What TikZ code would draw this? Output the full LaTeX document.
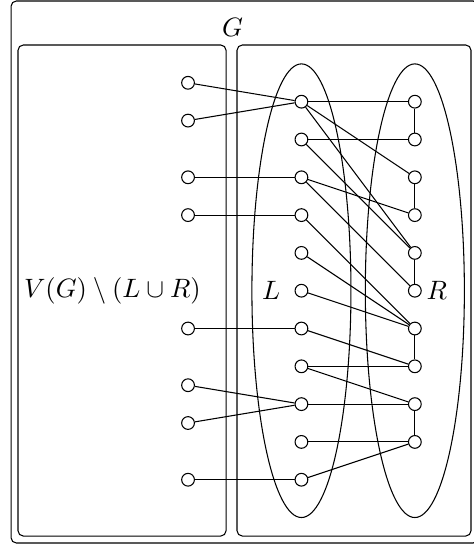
\documentclass[tikz,border=0pt]{standalone}
\usepackage{tikz}

\begin{document}
\begin{tikzpicture}[
  vtx/.style={draw,circle,fill=white,inner sep=0pt,minimum size=4.8pt},
  part/.style={draw,rounded corners=2pt},
  side/.style={draw}
]
\useasboundingbox (-2.487,-0.903) rectangle (3.770,6.345);
% frames
\draw[part] (-2.341,-0.837) rectangle (3.84,6.332);
\draw[part] (-2.249,-0.745) rectangle (0.503,5.75);
\draw[part] (0.648,-0.745) rectangle (3.743,5.75);
\draw[side] (1.5,2.5) ellipse [x radius=0.655,y radius=3];
\draw[side] (3,2.5) ellipse [x radius=0.655,y radius=3];
\node (gname) at (0.59,5.98) {$G$};
\node (rest) at (-1.0,2.5) {$V(G)\setminus(L\cup R)$};
\node (lname) at (1.1,2.5) {$L$};
\node (rname) at (3.29,2.5) {$R$};
% vertices
\foreach \k in {0,...,10}
  \node[vtx] (l\k) at (1.5,5-0.5*\k) {};
\foreach \k in {0,...,9}
  \node[vtx] (r\k) at (3,5-0.5*\k) {};
\foreach \n/\y in {1/5.25,2/4.75,3/4,4/3.5,5/2,6/1.25,7/0.75,8/0}
  \node[vtx] (o\n) at (0,\y) {};
% edges
\foreach \a/\b in {o1/l0,o2/l0,o3/l2,o4/l3,o5/l6,o6/l8,o7/l8,o8/l10,
  l0/r0,l0/r2,l0/r4,l1/r1,l1/r4,l2/r3,l2/r5,l3/r6,l4/r6,l5/r6,
  l6/r7,l7/r7,l7/r8,l8/r8,l9/r9,l10/r9,
  r0/r1,r2/r3,r4/r5,r6/r7,r8/r9}
  \draw (\a) -- (\b);
\end{tikzpicture}
\end{document}
